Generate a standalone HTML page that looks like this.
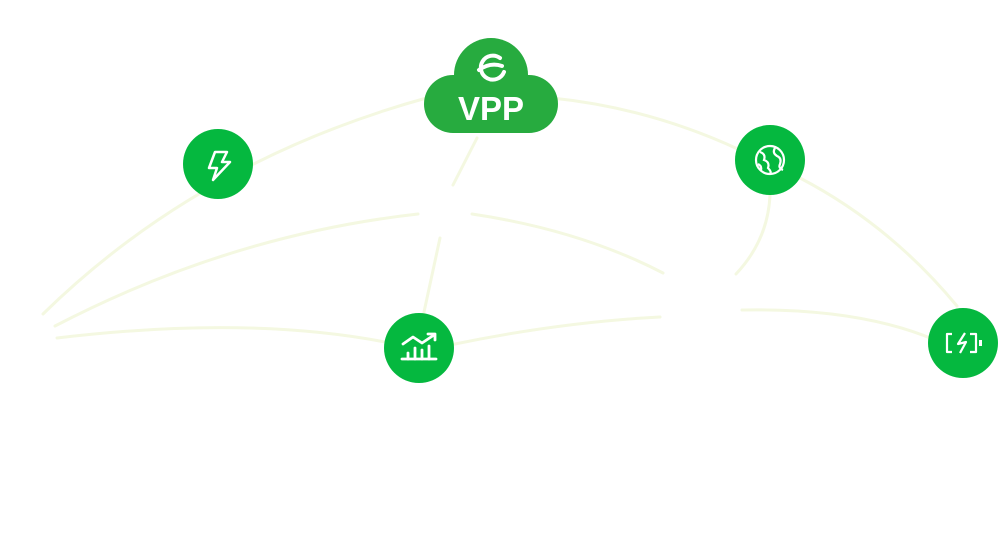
<!DOCTYPE html>
<html><head><meta charset="utf-8"><style>
html,body{margin:0;padding:0;background:#fff;width:1000px;height:549px;overflow:hidden}
</style></head><body>
<svg width="1000" height="549" viewBox="0 0 1000 549" xmlns="http://www.w3.org/2000/svg">
<g fill="none" stroke="#f4f8e1" stroke-width="3" stroke-linecap="round">
<path d="M43,314 Q200,160 430,97"/>
<path d="M552,98 Q650,108 740,150"/>
<path d="M800,178 Q890,225 957,306"/>
<path d="M55,326 Q230,235 418,214"/>
<path d="M472,214 Q580,230 663,273"/>
<path d="M57,338 Q250,315 390,343"/>
<path d="M450,345 Q560,322 660,317"/>
<path d="M742,310 Q860,308 935,340"/>
<path d="M477,138 L453,185"/>
<path d="M440,238 L424,312"/>
<path d="M770,195 Q768,240 736,274"/>
</g>
<!-- cloud -->
<g fill="#27ab3f">
<circle cx="491" cy="75" r="37"/>
<rect x="424" y="75" width="134" height="58" rx="29"/>
</g>
<g stroke="#fff" stroke-width="4" fill="none" stroke-linecap="round">
<path d="M500,58 A12,12 0 1 0 504,72"/>
<path d="M479,70 Q490,62 502,66"/>
</g>
<text x="491" y="120" text-anchor="middle" font-family="Liberation Sans, sans-serif" font-weight="bold" font-size="33" fill="#fff">VPP</text>
<!-- circles -->
<g fill="#05b83f">
<circle cx="218" cy="164" r="35"/>
<circle cx="770" cy="160" r="35"/>
<circle cx="419" cy="348" r="35"/>
<circle cx="963" cy="343" r="35"/>
</g>
<!-- bolt -->
<path d="M215,152 L227,152 L222,162 L230,162 L213,180 L217,168 L209,168 Z" fill="none" stroke="#fff" stroke-width="2.5" stroke-linejoin="round"/>
<!-- globe -->
<g stroke="#fff" stroke-width="2.2" fill="none">
<circle cx="770" cy="160" r="14"/>
<path d="M760,152 Q766,154 764,160 Q770,162 768,168 Q772,172 770,174"/>
<path d="M775,148 Q772,153 777,156 Q782,158 780,164 Q778,168 783,170"/>
<path d="M758,164 Q762,166 761,170"/>
</g>
<!-- chart -->
<g stroke="#fff" stroke-width="2.8" fill="none" stroke-linecap="round" stroke-linejoin="round">
<path d="M403,344 L413,337 L422,343 L434,335"/>
<path d="M428,334 L435,334 L435,340"/>
<path d="M402,359 L436,359"/>
<path d="M408,359 L408,353 M415,359 L415,348 M422,359 L422,350 M429,359 L429,346"/>
</g>
<!-- battery -->
<g stroke="#fff" stroke-width="2.2" fill="none" stroke-linejoin="round">
<path d="M952,334 L947,334 L947,352 L952,352"/>
<path d="M970,334 L976,334 L976,352 L970,352"/>
<path d="M965,333 L958,344 L966,342 L960,353"/>
</g>
<rect x="979" y="340" width="3" height="6" fill="#fff"/>
</svg>
</body></html>
